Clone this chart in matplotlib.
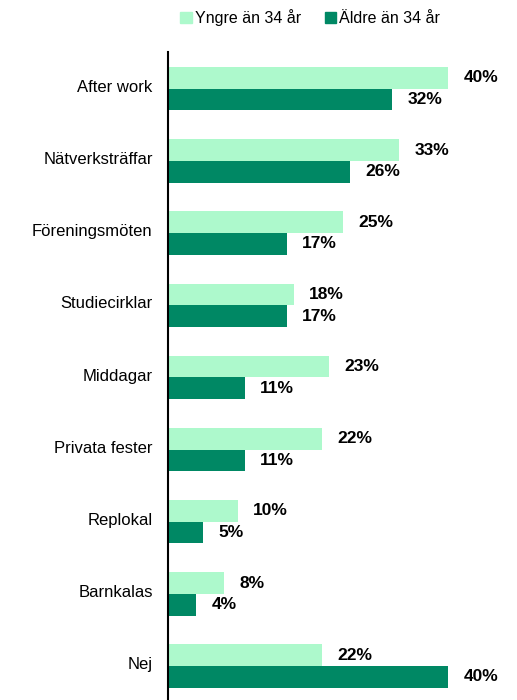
import numpy as np
import matplotlib.pyplot as plt
from matplotlib.patches import Patch

plt.rcParams['font.family'] = ['Liberation Sans', 'DejaVu Sans']

# data
categories = ['After work', 'Nätverksträffar', 'Föreningsmöten', 'Studiecirklar',
              'Middagar', 'Privata fester', 'Replokal', 'Barnkalas', 'Nej']
yngre = [40, 33, 25, 18, 23, 22, 10, 8, 22]
aldre = [32, 26, 17, 17, 11, 11, 5, 4, 40]
series_names = ['Yngre än 34 år', 'Äldre än 34 år']

light = '#adf9cc'
dark = '#008864'

fig = plt.figure(figsize=(5.17, 7.0), dpi=100)
ax = fig.add_axes([168 / 517, 0.0, 336 / 517, 1 - 52 / 700])

y = np.arange(len(categories))
h = 0.3
ax.barh(y - h / 2, yngre, height=h, color=light)
ax.barh(y + h / 2, aldre, height=h, color=dark)

# värdeetiketter
for yi, v in zip(y, yngre):
    ax.annotate(f'{v}%', (v, yi - h / 2), xytext=(11, 0), textcoords='offset points',
                ha='left', va='center', fontsize=12.5, fontweight='bold')
for yi, v in zip(y, aldre):
    ax.annotate(f'{v}%', (v, yi + h / 2), xytext=(11, 0), textcoords='offset points',
                ha='left', va='center', fontsize=12.5, fontweight='bold')

ax.set_xlim(0, 48)
ax.set_ylim(len(categories) - 1 + 0.47, -0.51)
ax.set_yticks(y - 0.04)
ax.set_yticklabels(categories, fontsize=12)
ax.tick_params(axis='y', length=0, pad=11)
ax.set_xticks([])
for s in ['top', 'right', 'bottom']:
    ax.spines[s].set_visible(False)
ax.spines['left'].set_linewidth(1.5)
ax.spines['left'].set_color('black')

handles = [Patch(color=light), Patch(color=dark)]
fig.legend(handles, series_names, loc='upper center', bbox_to_anchor=(0.6, 1.008),
           ncol=2, frameon=False, fontsize=11.5, handlelength=0.7, handleheight=0.7,
           handletextpad=0.2, columnspacing=1.5)

fig.savefig('out.png', dpi=100)
